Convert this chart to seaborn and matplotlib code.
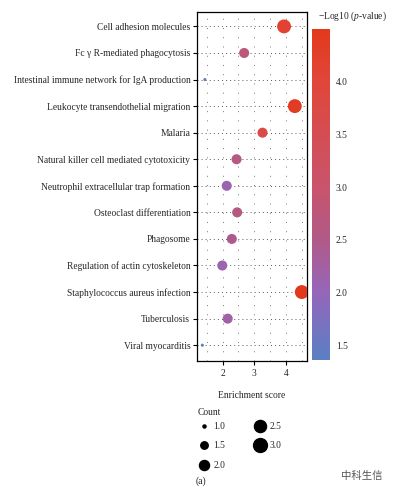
import numpy as np
import pandas as pd
import matplotlib
matplotlib.use("Agg")
import matplotlib.pyplot as plt
import seaborn as sns
from matplotlib.colors import LinearSegmentedColormap, Normalize
from matplotlib.lines import Line2D
import matplotlib.cm as cm

# Data
pathways = [
    "Cell adhesion molecules",
    "Fc γ R-mediated phagocytosis",
    "Intestinal immune network for IgA production",
    "Leukocyte transendothelial migration",
    "Malaria",
    "Natural killer cell mediated cytotoxicity",
    "Neutrophil extracellular trap formation",
    "Osteoclast differentiation",
    "Phagosome",
    "Regulation of actin cytoskeleton",
    "Staphylococcus aureus infection",
    "Tuberculosis",
    "Viral myocarditis",
]
enrichment = [3.94, 2.68, 1.44, 4.28, 3.26, 2.44, 2.13, 2.46, 2.29, 1.99, 4.50, 2.16, 1.36]
neglog10p = [4.15, 2.75, 1.45, 4.35, 3.75, 2.6, 2.1, 2.6, 2.45, 2.1, 4.5, 2.2, 1.36]
counts = [3, 2, 1, 3, 2, 2, 2, 2, 2, 2, 3, 2, 1]

legend_counts = [1.0, 1.5, 2.0, 2.5, 3.0]
cbar_ticks = [1.5, 2.0, 2.5, 3.0, 3.5, 4.0]

df = pd.DataFrame({
    "pathway": pathways,
    "enrichment": enrichment,
    "p": neglog10p,
    "count": counts,
})

sns.set_style("white")
plt.rcParams["font.family"] = ["Liberation Serif", "DejaVu Serif"]
plt.rcParams["mathtext.fontset"] = "custom"
plt.rcParams["mathtext.rm"] = "Liberation Serif"
plt.rcParams["mathtext.it"] = "Liberation Serif:italic"

FS = 6.85

vmin, vmax = 1.36, 4.5
cmap = LinearSegmentedColormap.from_list("pv", [
    (0.0, "#5a80c4"),
    ((2.0 - vmin) / (vmax - vmin), "#9566ba"),
    ((2.5 - vmin) / (vmax - vmin), "#b05a88"),
    ((3.0 - vmin) / (vmax - vmin), "#c9546c"),
    ((4.0 - vmin) / (vmax - vmin), "#e0463a"),
    (1.0, "#e2391c"),
])
norm = Normalize(vmin, vmax)
size_range = (5, 100)

fig = plt.figure(figsize=(3.93, 4.92), dpi=100)
ax = fig.add_axes([0.502, 0.266, 0.278, 0.710])

# dotted grid
for xv in np.arange(1.5, 4.6, 0.5):
    ax.axvline(xv, color="#777777", lw=0.7, ls=(0, (1, 8.5)), zorder=0)
for yv in range(len(pathways)):
    ax.axhline(yv, color="#555555", lw=0.7, ls=(0, (1, 3.2)), zorder=0)

sns.scatterplot(
    data=df, x="enrichment", y="pathway",
    hue="p", palette=cmap, hue_norm=norm,
    size="count", sizes=size_range, size_norm=(1, 3),
    linewidth=0, legend=False, ax=ax, zorder=3,
)

ax.set_xlim(1.2, 4.65)
ax.set_ylim(len(pathways) - 0.4, -0.55)
ax.set_xticks([2, 3, 4])
ax.set_xlabel("Enrichment score", fontsize=FS, labelpad=9)
ax.set_ylabel("")
ax.tick_params(axis="both", labelsize=FS, length=3, width=0.8, color="black",
               direction="out", pad=2, bottom=True, left=True)
ax.tick_params(axis="x", pad=3)
for sp in ax.spines.values():
    sp.set_visible(True)
    sp.set_color("black")
    sp.set_linewidth(0.9)

# colorbar
cax = fig.add_axes([0.794, 0.268, 0.046, 0.673])
sm = cm.ScalarMappable(norm=norm, cmap=cmap)
cb = fig.colorbar(sm, cax=cax)
cb.outline.set_visible(False)
cb.set_ticks(cbar_ticks)
cax.tick_params(axis="y", direction="in", color="white", length=3, width=0.8,
                left=True, right=True, labelsize=FS, pad=4)
fig.text(0.808, 0.966, "−Log10 ($p$-value)", fontsize=FS, ha="left", va="center")

# size legend
def msize(c):
    s = size_range[0] + (c - 1) / 2 * (size_range[1] - size_range[0])
    return np.sqrt(s)

handles = [Line2D([], [], ls="", marker="o", color="black", markersize=msize(c))
           for c in legend_counts]
fig.text(0.504, 0.162, "Count", fontsize=FS, ha="left", va="center")
leg = fig.legend(handles, [f"{c:.1f}" for c in legend_counts],
                 ncol=2, loc="upper left", bbox_to_anchor=(0.487, 0.152),
                 frameon=False, fontsize=FS,
                 handletextpad=0.2, handlelength=1.6, columnspacing=2.9,
                 labelspacing=1.1, borderpad=0)

fig.text(0.498, 0.022, "(a)", fontsize=7, ha="left", va="center")
fig.text(0.92, 0.032, "中科生信", fontsize=7.5, color="#555555", ha="center",
         va="center", family=["Noto Sans CJK SC", "DejaVu Sans"])

fig.savefig("out.png", dpi=100)
